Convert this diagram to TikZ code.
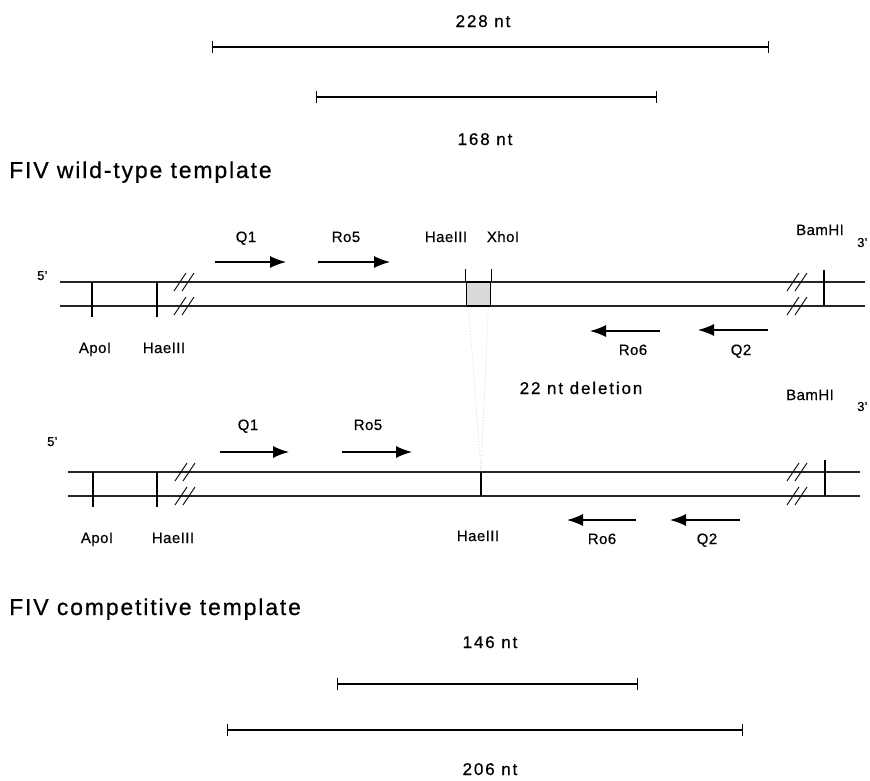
\documentclass[tikz,border=0pt]{standalone}
\usepackage{fontspec}
\setmainfont{Liberation Sans}
\newfontfamily\headfont[LetterSpace=8,FakeBold=0.6]{Liberation Sans}
\newfontfamily\sizefont[LetterSpace=11,FakeBold=0.5]{Liberation Sans}
\newfontfamily\lblfont[LetterSpace=3,FakeBold=0.4]{Liberation Sans}
\usetikzlibrary{arrows.meta}

\begin{document}
\begin{tikzpicture}[x=1pt,y=-1pt,
    strand/.style={line width=1.1pt, black!85},
    cutsite/.style={line width=1.1pt},
    breakmark/.style={line width=0.9pt},
    primer/.style={line width=1.3pt, -{Latex[length=16pt,width=12pt]}},
    sizebar/.style={line width=1.1pt, {Bar[width=12pt]}-{Bar[width=12pt]}},
    deletion/.style={dotted, gray!45, line width=0.7pt},
    lbl/.style={font=\lblfont\fontsize{15}{17}\selectfont, anchor=base, inner sep=0pt},
    endlbl/.style={font=\lblfont\fontsize{13}{15}\selectfont, anchor=base west, inner sep=0pt},
    sizelbl/.style={font=\sizefont\fontsize{17}{20}\selectfont, anchor=base, inner sep=0pt},
    heading/.style={font=\headfont\fontsize{23}{27}\selectfont, anchor=base west, inner sep=0pt}
]
    \useasboundingbox (0,0) rectangle (870,780);

    % PCR products of the wild-type template
    \node[sizelbl] (wt228) at (483,27) {228 nt};
    \draw[sizebar] (212,47) -- (769,47);
    \draw[sizebar] (316,97) -- (657,97);
    \node[sizelbl] (wt168) at (485,145) {168 nt};

    \node[heading] (wthead) at (9,178) {FIV wild-type template};

    % wild-type template
    \node[endlbl] (wt5) at (37,280) {5'};
    \node[endlbl] (wt3) at (857,247) {3'};
    \draw[strand] (60,282) -- (865,282);
    \draw[strand] (60,306) -- (865,306);
    \foreach \x in {92,157} {
        \draw[cutsite] (\x,282) -- (\x,317);
    }
    \draw[cutsite] (824,270) -- (824,306);
    \foreach \x/\y in {180/282, 188/282, 180/306, 188/306, 793/282, 801/282, 793/306, 801/306} {
        \draw[breakmark] (\x-6,\y+9) -- (\x+6,\y-9);
    }
    \node[draw, line width=1.7pt, fill=gray!30, minimum width=24pt, minimum height=24pt, inner sep=0pt] (xhobox) at (478.5,294) {};
    \draw[cutsite] (xhobox.north west) -- ++(0,-12);
    \draw[cutsite] (xhobox.north east) -- ++(0,-12);

    \draw[primer] (215,262) -- (286,262);
    \draw[primer] (318,262) -- (390,262);
    \draw[primer] (660,331) -- (590,331);
    \draw[primer] (768,330) -- (698,330);

    \node[lbl] (wtq1) at (246,242) {Q1};
    \node[lbl] (wtro5) at (346,242) {Ro5};
    \node[lbl] (wthae) at (446,242) {HaeIII};
    \node[lbl] (wtxho) at (503,242) {XhoI};
    \node[lbl] (wtbam) at (820,235) {BamHI};
    \node[lbl] (wtapo) at (95,353) {ApoI};
    \node[lbl] (wthae1) at (164,353) {HaeIII};
    \node[lbl] (wtro6) at (633,355) {Ro6};
    \node[lbl] (wtq2) at (741,355) {Q2};

    % deletion
    \coordinate (delpt) at (481,472);
    \draw[deletion] ([xshift=3pt]xhobox.south west) -- (delpt);
    \draw[deletion] ([xshift=-3pt]xhobox.south east) -- (delpt);
    \node[sizelbl] (delnote) at (581,394) {22 nt deletion};

    % competitive template
    \node[endlbl] (ct5) at (47,446) {5'};
    \node[endlbl] (ct3) at (857,411) {3'};
    \draw[strand] (68,472) -- (860,472);
    \draw[strand] (68,496) -- (860,496);
    \foreach \x in {93,157} {
        \draw[cutsite] (\x,472) -- (\x,507);
    }
    \draw[cutsite] (481,472) -- (481,496);
    \draw[cutsite] (825,460) -- (825,496);
    \foreach \x/\y in {181/472, 189/472, 181/496, 189/496, 793/472, 801/472, 793/496, 801/496} {
        \draw[breakmark] (\x-6,\y+9) -- (\x+6,\y-9);
    }

    \draw[primer] (220,452) -- (289,452);
    \draw[primer] (342,452) -- (412,452);
    \draw[primer] (636,520) -- (567,520);
    \draw[primer] (740,520) -- (670,520);

    \node[lbl] (ctq1) at (248,430) {Q1};
    \node[lbl] (ctro5) at (368,430) {Ro5};
    \node[lbl] (ctbam) at (810,400) {BamHI};
    \node[lbl] (ctapo) at (97,543) {ApoI};
    \node[lbl] (cthae1) at (173,543) {HaeIII};
    \node[lbl] (cthae2) at (478,541) {HaeIII};
    \node[lbl] (ctro6) at (602,544) {Ro6};
    \node[lbl] (ctq2) at (707,544) {Q2};

    \node[heading] (cthead) at (9,615) {FIV competitive template};

    % PCR products of the competitive template
    \node[sizelbl] (ct146) at (490,648) {146 nt};
    \draw[sizebar] (337,684) -- (638,684);
    \draw[sizebar] (227,730) -- (743,730);
    \node[sizelbl] (ct206) at (490,775) {206 nt};
\end{tikzpicture}
\end{document}
